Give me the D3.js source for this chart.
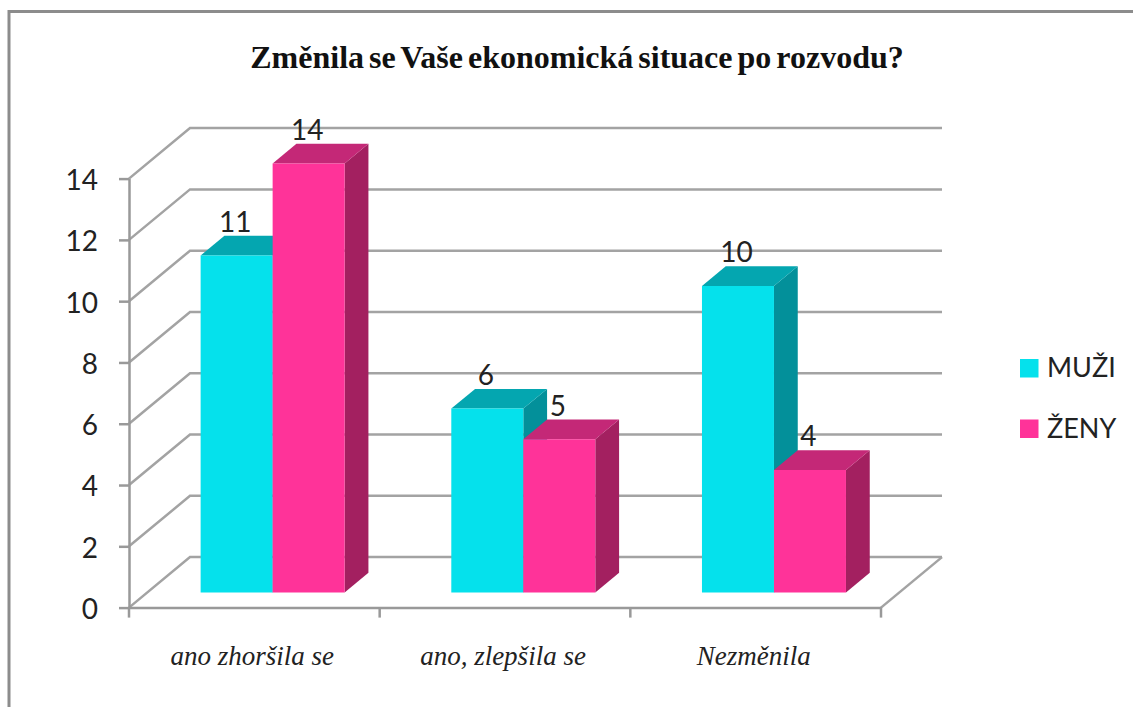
<!DOCTYPE html>
<html>
<head>
<meta charset="utf-8">
<script src="https://cdn.jsdelivr.net/npm/d3@7"></script>
<style>
  html, body { margin: 0; padding: 0; background: #fff; overflow: hidden; }
  .axis text { fill: #222; }
  .axis path, .axis line { stroke: #999; stroke-width: 2.5; }
  .grid { fill: none; stroke: #a3a3a3; stroke-width: 2.5; }
</style>
</head>
<body>
<div id="chart"></div>
<script>
"use strict"

const categories = ['ano zhoršila se', 'ano, zlepšila se', 'Nezměnila']
const seriesNames = ['MUŽI', 'ŽENY']
const muzi = [11, 6, 10]
const zeny = [14, 5, 4]
const yTicks = [0, 2, 4, 6, 8, 10, 12, 14]
const title = 'Změnila se Vaše ekonomická situace po rozvodu?'

const w = 1133, h = 707
const frame = { l: 129, r: 881, t: 178.6, b: 607.6 }
const sans = 'Lato, "Noto Sans", sans-serif'
const serif = '"Liberation Serif", serif'

const colors = {
    'MUŽI': { front: '#05e1ec', top: '#04a6b0', side: '#03909a' },
    'ŽENY': { front: '#ff3399', top: '#c42877', side: '#a32060' },
}

const x = d3.scaleBand().domain(categories).range([frame.l, frame.r])
const xInner = d3.scaleBand().domain(seriesNames).range([0, 144])
const y = d3.scaleLinear().domain([0, 14]).range([frame.b, frame.t])

// oblique projection of the 3d box: depth 0 = front plane, 1 = back wall
const depthX = d3.scaleLinear().domain([0, 1]).range([0, 61])
const depthY = d3.scaleLinear().domain([0, 1]).range([0, -50.5])
const barNear = 0.3, barFar = 0.69

const project = (px, py, z) => [px + depthX(z), py + depthY(z)]
const line = d3.line()

const svg = d3.select('#chart').append('svg')
    .attr('width', w).attr('height', h)
    .attr('viewBox', `0 0 ${w} ${h}`)
    .style('display', 'block')

// outer border, only top and left fall inside the picture
svg.append('path')
    .attr('d', line([[9, h], [9, 11.5], [w, 11.5]]))
    .attr('fill', 'none').attr('stroke', '#8c8c8c').attr('stroke-width', 3)

// title
svg.append('text')
    .text(title)
    .attr('x', 577).attr('y', 68)
    .attr('text-anchor', 'middle')
    .attr('font-family', serif).attr('font-weight', 'bold')
    .attr('font-size', 32).attr('word-spacing', -3).attr('fill', '#111')

// walls: side line + back line for every tick
svg.append('g').selectAll('path')
    .data(yTicks)
    .enter().append('path')
        .attr('class', 'grid')
        .attr('d', d => line([project(frame.l, y(d), 0), project(frame.l, y(d), 1), project(frame.r, y(d), 1)]))

// floor right edge
svg.append('path')
    .attr('class', 'grid')
    .attr('d', line([project(frame.r, y(0), 0), project(frame.r, y(0), 1)]))

// axes
const yAxis = d3.axisLeft(y).tickValues(yTicks).tickSize(10).tickPadding(21).tickSizeOuter(0)
const yG = svg.append('g')
    .attr('class', 'axis')
    .attr('transform', `translate(${frame.l}, 0)`)
    .call(yAxis)
yG.selectAll('text').attr('font-family', sans).attr('font-size', 28).attr('dy', '0.39em')

const xAxis = d3.axisBottom(x).tickSize(0).tickSizeOuter(0)
const xG = svg.append('g')
    .attr('class', 'axis')
    .attr('transform', `translate(0, ${frame.b})`)
    .call(xAxis)
xG.selectAll('text')
    .attr('font-family', serif).attr('font-style', 'italic')
    .attr('font-size', 27)
    .attr('x', -2).attr('y', 57.5).attr('dy', 0)

// category separators on the x axis
svg.append('g').selectAll('line')
    .data([frame.l, x(categories[1]), x(categories[2]), frame.r])
    .enter().append('line')
        .attr('x1', d => d).attr('x2', d => d)
        .attr('y1', frame.b).attr('y2', frame.b + 10)
        .attr('stroke', '#999').attr('stroke-width', 2.5)

// bars
const rows = categories.flatMap((c, i) => [
    { cat: c, name: seriesNames[0], value: muzi[i] },
    { cat: c, name: seriesNames[1], value: zeny[i] },
])
const bandGap = (x.bandwidth() - 144) / 2

const bars = svg.append('g').selectAll('g')
    .data(rows)
    .enter().append('g')

const corners = d => {
    const x0 = x(d.cat) + bandGap + xInner(d.name)
    const x1 = x0 + xInner.bandwidth()
    return { x0, x1, yb: y(0), yt: y(d.value) }
}

bars.append('path')
    .attr('fill', d => colors[d.name].side)
    .attr('d', d => {
        const c = corners(d)
        return line([project(c.x1, c.yb, barNear), project(c.x1, c.yb, barFar), project(c.x1, c.yt, barFar), project(c.x1, c.yt, barNear)]) + 'Z'
    })
bars.append('path')
    .attr('fill', d => colors[d.name].top)
    .attr('d', d => {
        const c = corners(d)
        return line([project(c.x0, c.yt, barNear), project(c.x0, c.yt, barFar), project(c.x1, c.yt, barFar), project(c.x1, c.yt, barNear)]) + 'Z'
    })
bars.append('path')
    .attr('fill', d => colors[d.name].front)
    .attr('d', d => {
        const c = corners(d)
        return line([project(c.x0, c.yb, barNear), project(c.x1, c.yb, barNear), project(c.x1, c.yt, barNear), project(c.x0, c.yt, barNear)]) + 'Z'
    })

// value labels, centred over the bar's front face
svg.append('g').selectAll('text')
    .data(rows)
    .enter().append('text')
        .text(d => d.value)
        .attr('x', d => { const c = corners(d); return project((c.x0 + c.x1) / 2, 0, barNear)[0] - 1.5 })
        .attr('y', d => project(0, y(d.value), barFar)[1] - 4)
        .attr('text-anchor', 'middle')
        .attr('font-family', sans).attr('font-size', 28).attr('fill', '#222')

// legend
const legendY = d3.scalePoint().domain(seriesNames).range([359, 419.5])
const legend = svg.append('g').selectAll('g')
    .data(seriesNames)
    .enter().append('g')
        .attr('transform', d => `translate(1020, ${legendY(d)})`)
legend.append('rect')
    .attr('width', 18.5).attr('height', 18.5)
    .attr('fill', d => colors[d].front)
legend.append('text')
    .text(d => d)
    .attr('x', 27).attr('y', 18)
    .attr('font-family', sans).attr('font-size', 27).attr('fill', '#222')
</script>
</body>
</html>
